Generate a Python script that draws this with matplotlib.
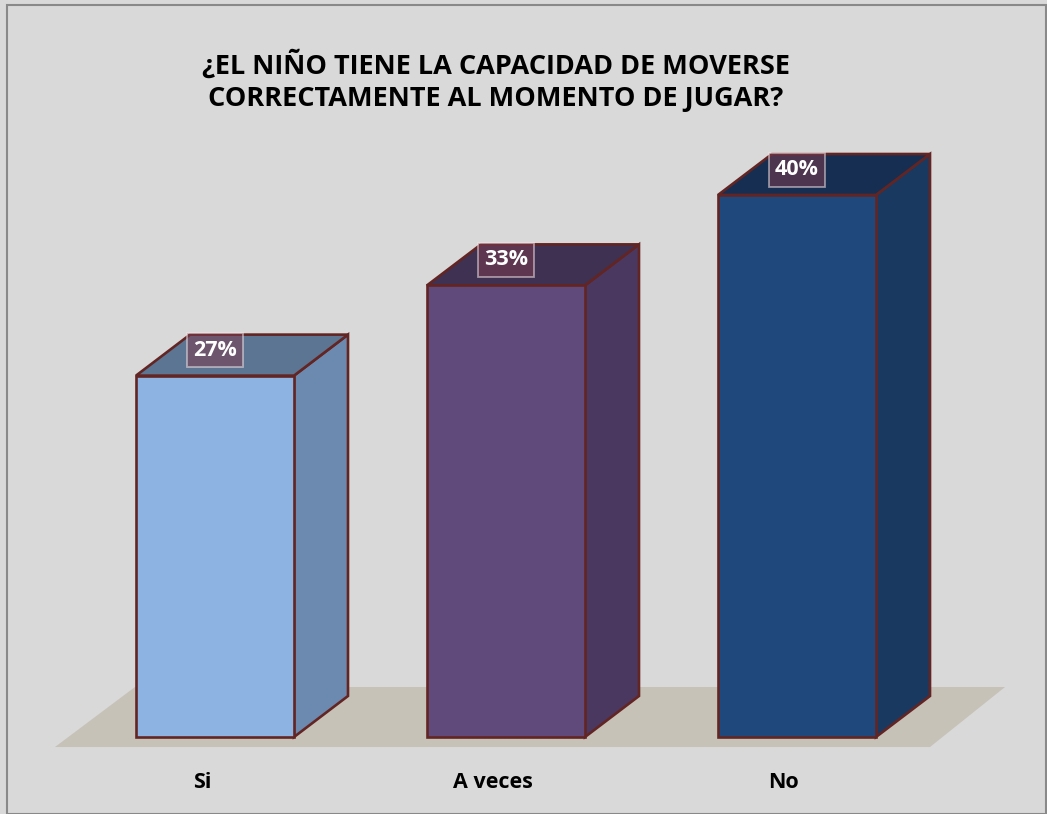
import matplotlib
matplotlib.use("Agg")
import matplotlib.pyplot as plt
from matplotlib.patches import Polygon, Rectangle

categories = ["Si", "A veces", "No"]
values = [26.67, 33.33, 40.0]
labels = ["27%", "33%", "40%"]
front_colors = ["#8DB3E2", "#604A7B", "#1F497D"]
side_colors = ["#6C8AAF", "#4A3860", "#1A3961"]
top_colors = ["#5B7593", "#3E3151", "#162E51"]

title = "¿EL NIÑO TIENE LA CAPACIDAD DE MOVERSE\nCORRECTAMENTE AL MOMENTO DE JUGAR?"

W, H = 1047, 814
fig = plt.figure(figsize=(W / 100, H / 100), dpi=100)
fig.patch.set_facecolor("#D9D9D9")
plt.rcParams['font.family'] = ['Open Sans', 'DejaVu Sans']

ax_l, ax_r, ax_t, ax_b = 40, 1020, 100, 760
ax = fig.add_axes([ax_l / W, 1 - ax_b / H, (ax_r - ax_l) / W, (ax_b - ax_t) / H])
ax.set_facecolor("none")
px_x = 291.0
px_y = 13.55
ax.set_xlim(-(215 - ax_l) / px_x, (ax_r - 215) / px_x)
ax.set_ylim(-(ax_b - 737) / px_y, (737 - ax_t) / px_y)
ax.axis("off")

bw = 158 / px_x
ddx = 54 / px_x
ddy = 41 / px_y
edge = "#632523"
lw = 1.9

fl = Polygon([(-0.55, -0.74), (2.457, -0.74), (2.715, 3.69), (-0.275, 3.69)],
             closed=True, facecolor="#C6C2B8", edgecolor="none", zorder=1)
ax.add_patch(fl)

xs = list(range(len(categories)))
ax.bar(xs, values, width=bw, color=front_colors, edgecolor=edge, linewidth=lw, zorder=3)
for x, v, sc, tc, lab in zip(xs, values, side_colors, top_colors, labels):
    x0, x1 = x - bw / 2, x + bw / 2
    side = Polygon([(x1, 0), (x1 + ddx, ddy), (x1 + ddx, v + ddy), (x1, v)],
                   closed=True, facecolor=sc, edgecolor=edge, linewidth=lw, zorder=2)
    top = Polygon([(x0, v), (x1, v), (x1 + ddx, v + ddy), (x0 + ddx, v + ddy)],
                  closed=True, facecolor=tc, edgecolor=edge, linewidth=lw, zorder=2)
    ax.add_patch(side)
    ax.add_patch(top)
    ax.text(x, v + ddy * 0.62, lab, ha="center", va="center", color="white",
            fontsize=15.5, fontweight="bold", zorder=5,
            bbox=dict(boxstyle="square,pad=0.3", facecolor="#7B3B4E", alpha=0.55,
                      edgecolor="#F2E6E8", linewidth=1.3))

for x, c in zip(xs, categories):
    ax.text(x - 0.045, -(783 - 737) / px_y, c, ha="center", va="center",
            fontsize=15.5, fontweight="bold", color="black")

fig.text(496 / W, 1 - 81 / H, title, ha="center", va="center", fontsize=19.5,
         fontweight="bold", color="black", linespacing=1.3)

fig.patches.append(Rectangle((7 / W, 0), (W - 8) / W, 1 - 5 / H, transform=fig.transFigure,
                             fill=False, edgecolor="#898989", linewidth=1.5))

fig.savefig("out.png", dpi=100, facecolor=fig.get_facecolor())
